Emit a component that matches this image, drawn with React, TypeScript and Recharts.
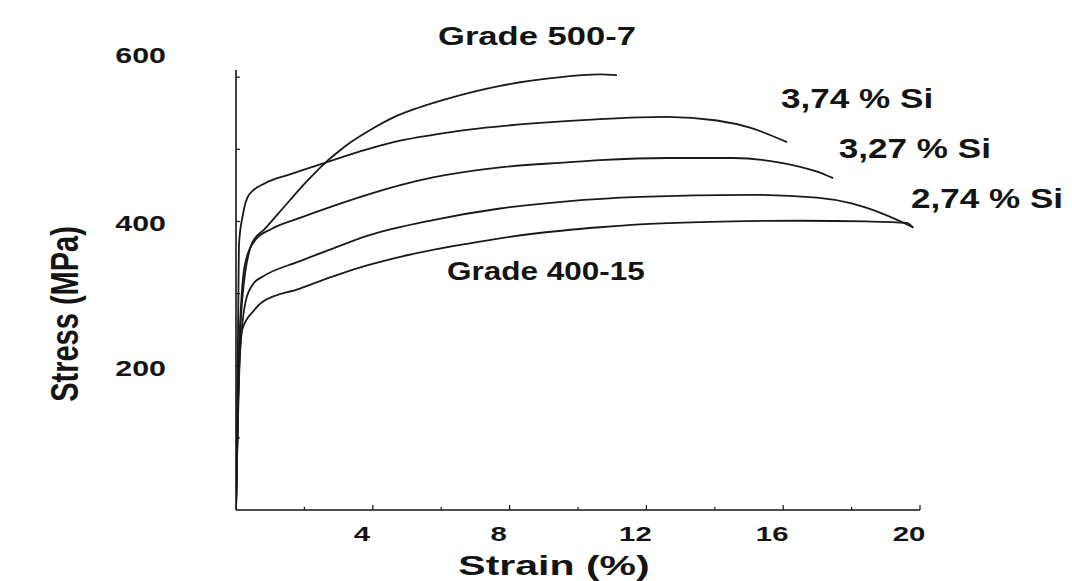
import React from 'react';
import { LineChart, Line, XAxis, YAxis, ReferenceDot } from 'recharts';

// ---- Data (strain in %, stress in MPa) ----
const grade500Strain = [0, 0.06, 0.18, 0.47, 0.85, 1.55, 2.0, 2.6, 3.0, 3.33, 4.0, 4.59, 5.29, 6.17, 7.72, 9.27, 10.64, 11.14];
const grade500Stress = [0, 152, 291, 370, 390, 428, 452, 481, 497, 509, 529, 544, 557, 570, 588, 599, 604, 603];

const si374Strain = [0, 0.06, 0.09, 0.2, 0.38, 0.85, 1.55, 2.51, 3.83, 4.8, 5.76, 6.75, 8.68, 10.64, 12.6, 14.06, 15.03, 16.11];
const si374Stress = [0, 250, 370, 409, 437, 453, 465, 480, 500, 512, 520, 527, 536, 542, 545, 540, 530, 510];

const si327Strain = [0, 0.09, 0.26, 0.56, 1.05, 1.87, 2.81, 3.83, 5.76, 7.72, 9.68, 10.64, 12.6, 14.53, 15.99, 16.99, 17.46];
const si327Stress = [0, 222, 340, 374, 390, 405, 421, 437, 461, 475, 482, 485, 488, 488, 481, 469, 460];

const si274Strain = [0, 0.09, 0.29, 0.53, 0.76, 1.87, 2.81, 3.83, 5.76, 7.72, 9.68, 11.81, 15.03, 16.99, 18.0, 18.9, 19.8];
const si274Stress = [0, 194, 291, 315, 323, 345, 362, 380, 402, 418, 428, 434, 437, 433, 425, 411, 392];

const grade400Strain = [0, 0.12, 0.18, 0.53, 0.76, 1.87, 2.84, 3.83, 4.8, 6.75, 8.68, 10.64, 11.81, 13.57, 16.49, 18.45, 19.62, 19.8];
const grade400Stress = [0, 222, 250, 277, 288, 307, 324, 339, 351, 369, 383, 392, 396, 399, 401, 400, 398, 391];

const seriesNames = ['Grade 500-7', '3,74 % Si', '3,27 % Si', '2,74 % Si', 'Grade 400-15'];

const xTicks = [2, 4, 6, 8, 10, 12, 14, 16, 18, 20];
const xTickLabels = [4, 8, 12, 16, 20];
const yTicks = [100, 200, 300, 400, 500, 600];
const yTickLabels = [200, 400, 600];

const annotationTexts = ['Grade 500-7', '3,74 % Si', '3,27 % Si', '2,74 % Si', 'Grade 400-15'];
const annotationStrain = [8.8, 18.16, 19.85, 21.96, 9.06];
const annotationStress = [645, 557, 488, 419, 319];

const xTitle = 'Strain (%)';
const yTitle = 'Stress (MPa)';

// ---- Styles ----
const FONT = "'Liberation Sans', Arial, Helvetica, sans-serif";
const INK = '#141414';
const annotationStyles = [
  { size: 26, sx: 1.33 },
  { size: 27, sx: 1.3 },
  { size: 27, sx: 1.3 },
  { size: 27, sx: 1.3 },
  { size: 25, sx: 1.26 },
];

const buildSeries = (xs: number[], ys: number[]) => xs.map((x, i) => ({ strain: x, stress: ys[i] }));
const seriesData = [
  buildSeries(grade500Strain, grade500Stress),
  buildSeries(si374Strain, si374Stress),
  buildSeries(si327Strain, si327Stress),
  buildSeries(si274Strain, si274Stress),
  buildSeries(grade400Strain, grade400Stress),
];

function StretchText(props: any) {
  const { x, y, size, sx, anchor = 'middle', rotate = 0, children } = props;
  const transform = `translate(${x},${y}) scale(${sx},1)${rotate ? ` rotate(${rotate})` : ''}`;
  return (
    <text
      transform={transform}
      x={0}
      y={0}
      textAnchor={anchor}
      fontFamily={FONT}
      fontWeight={700}
      fontSize={size}
      fill={INK}
    >
      {children}
    </text>
  );
}

function XTick(props: any) {
  const { x, y, payload } = props;
  const v = payload.value;
  const major = xTickLabels.includes(v);
  return (
    <g>
      <line x1={x} x2={x} y1={y} y2={y - (major ? 5 : 3)} stroke={INK} strokeWidth={1.2} />
      {major && (
        <StretchText x={x - 11} y={y + 31} size={21} sx={1.4}>
          {v}
        </StretchText>
      )}
    </g>
  );
}

function YTick(props: any) {
  const { x, y, payload } = props;
  const v = payload.value;
  const major = yTickLabels.includes(v);
  return (
    <g>
      <line x1={x} x2={x + 4} y1={y} y2={y} stroke={INK} strokeWidth={1.2} />
      {major && (
        <StretchText x={x - 70} y={y + (v === 600 ? -14 : 10)} size={22} sx={1.38} anchor="end">
          {v}
        </StretchText>
      )}
    </g>
  );
}

const XTitle = (props: any) => {
  const vb = props.viewBox;
  return (
    <StretchText x={vb.x + vb.width / 2 - 24} y={vb.y + 65} size={27} sx={1.52}>
      {xTitle}
    </StretchText>
  );
};

const YTitle = (props: any) => {
  const vb = props.viewBox;
  return (
    <StretchText x={vb.x - 78} y={vb.y + vb.height / 2 + 24} size={29} sx={1.35} rotate={-90}>
      {yTitle}
    </StretchText>
  );
};

const makeAnnotation = (i: number) => (props: any) => {
  const vb = props.viewBox;
  const st = annotationStyles[i];
  return (
    <StretchText x={vb.x + vb.width / 2} y={vb.y + vb.height / 2} size={st.size} sx={st.sx}>
      {annotationTexts[i]}
    </StretchText>
  );
};

export default function App() {
  return (
    <div style={{ position: 'relative', width: 1064, height: 573, background: '#fff' }}>
      <div style={{ position: 'absolute', left: 0, top: -1, width: 205, height: 1, background: '#9a9a9a' }} />
      <LineChart width={1064} height={573} margin={{ top: 62, right: 152, bottom: 31, left: 148 }}>
        <XAxis
          type="number"
          dataKey="strain"
          domain={[0, 20]}
          ticks={xTicks}
          interval={0}
          height={40}
          tickSize={0}
          tickMargin={0}
          tickLine={false}
          tick={<XTick />}
          axisLine={{ stroke: INK, strokeWidth: 1.6 }}
          label={XTitle}
          allowDataOverflow
        />
        <YAxis
          type="number"
          dataKey="stress"
          domain={[0, 610]}
          ticks={yTicks}
          interval={0}
          width={80}
          tickSize={0}
          tickMargin={0}
          tickLine={false}
          tick={<YTick />}
          axisLine={{ stroke: INK, strokeWidth: 1.6 }}
          label={YTitle}
          allowDataOverflow
        />
        {seriesData.map((d, i) => (
          <Line
            key={seriesNames[i]}
            name={seriesNames[i]}
            data={d}
            dataKey="stress"
            type="monotone"
            stroke="#1a1a1a"
            strokeWidth={1.8}
            dot={false}
            activeDot={false}
            isAnimationActive={false}
          />
        ))}
        {annotationTexts.map((t, i) => (
          <ReferenceDot
            key={t}
            x={annotationStrain[i]}
            y={annotationStress[i]}
            r={1}
            fill="none"
            stroke="none"
            ifOverflow="visible"
            label={makeAnnotation(i)}
          />
        ))}
      </LineChart>
    </div>
  );
}
